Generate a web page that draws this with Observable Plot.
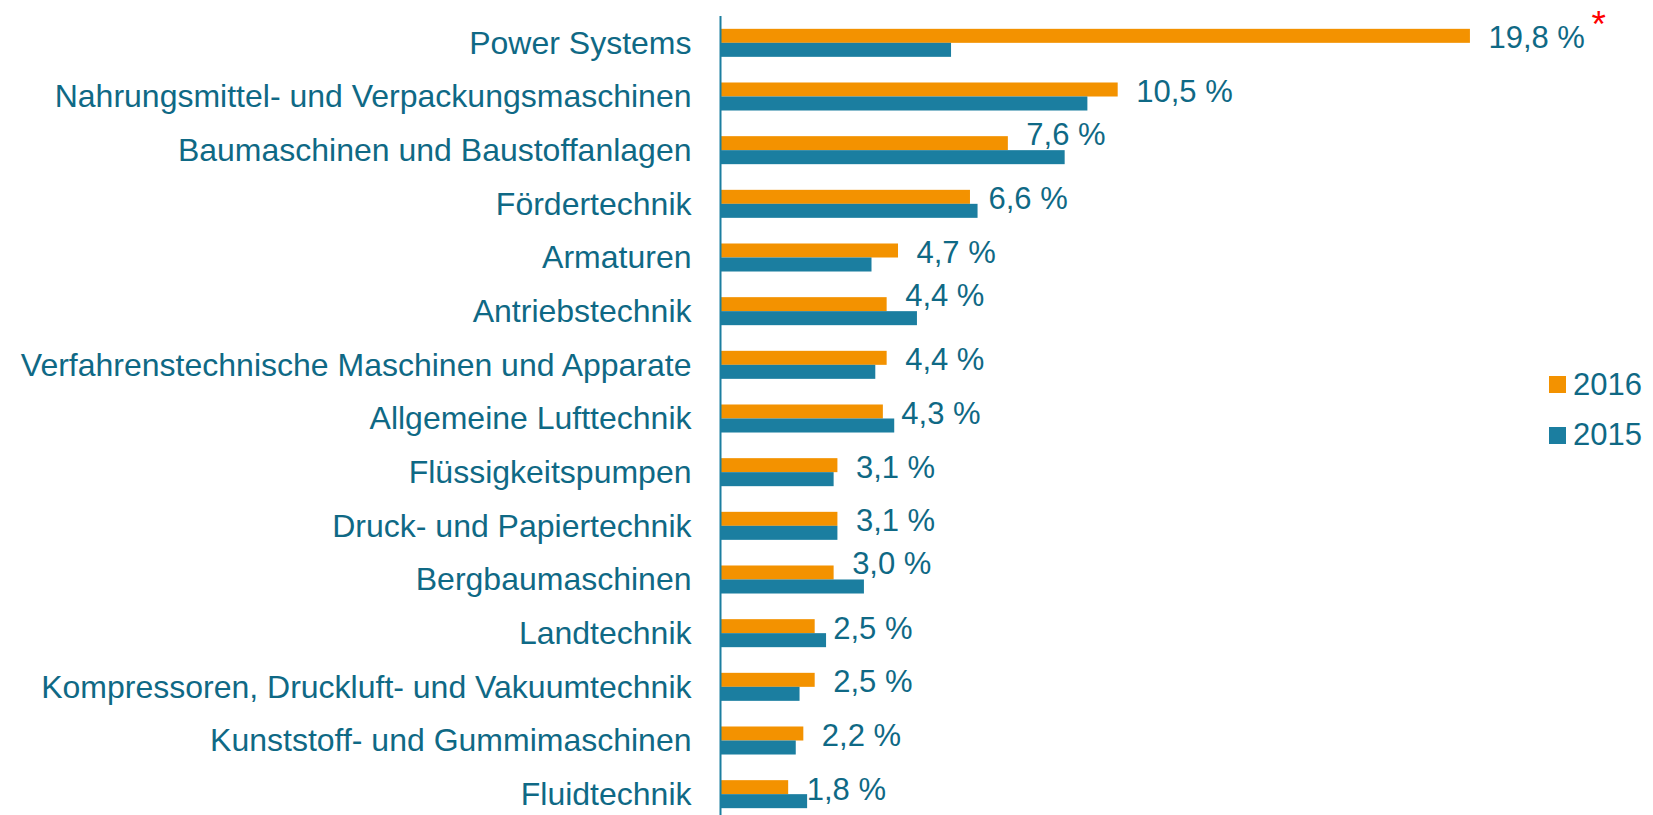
<!DOCTYPE html>
<html>
<head>
<meta charset="utf-8">
<script src="https://cdn.jsdelivr.net/npm/d3@7"></script>
<script src="https://cdn.jsdelivr.net/npm/@observablehq/plot@0.6"></script>
<style>
  html, body { margin: 0; padding: 0; background: #fff; overflow: hidden; }
  #wrap { position: relative; width: 1653px; height: 815px; }
  #legend { position: absolute; left: 0; top: 0; font-family: "Liberation Sans", Arial, sans-serif; font-size: 31px; color: #0F6985; }
  .sw { position: absolute; width: 17px; height: 17px; }
  .lt { position: absolute; line-height: 31px; white-space: nowrap; }
</style>
</head>
<body>
<div id="wrap"><div id="legend"></div></div>
<script>
const categories = [
  "Power Systems",
  "Nahrungsmittel- und Verpackungsmaschinen",
  "Baumaschinen und Baustoffanlagen",
  "Fördertechnik",
  "Armaturen",
  "Antriebstechnik",
  "Verfahrenstechnische Maschinen und Apparate",
  "Allgemeine Lufttechnik",
  "Flüssigkeitspumpen",
  "Druck- und Papiertechnik",
  "Bergbaumaschinen",
  "Landtechnik",
  "Kompressoren, Druckluft- und Vakuumtechnik",
  "Kunststoff- und Gummimaschinen",
  "Fluidtechnik"
];
const values2016 = [19.8, 10.5, 7.6, 6.6, 4.7, 4.4, 4.4, 4.3, 3.1, 3.1, 3.0, 2.5, 2.5, 2.2, 1.8];
const values2015 = [6.1, 9.7, 9.1, 6.8, 4.0, 5.2, 4.1, 4.6, 3.0, 3.1, 3.8, 2.8, 2.1, 2.0, 2.3];
const seriesNames = ["2016", "2015"];
const seriesColors = ["#F39200", "#1B7EA0"];
const footnoted = ["Power Systems"];

const textColor = "#0F6985";
const rows = categories.map((c, i) => ({category: c, v2016: values2016[i], v2015: values2015[i]}));
const fmt = v => v.toFixed(1).replace(".", ",") + "\u00a0%";
const raised = d => d.v2015 - d.v2016 > 0.6;

const chart = Plot.plot({
  width: 1653,
  height: 821,
  marginTop: 16,
  marginBottom: 0,
  marginLeft: 720,
  marginRight: 24,
  style: {fontFamily: "'Liberation Sans', Arial, sans-serif", fontSize: "32px", color: textColor, background: "transparent"},
  x: {domain: [0, 24], axis: null},
  y: {domain: categories, paddingInner: 0.478, paddingOuter: 0.239, round: false, tickSize: 0, tickPadding: 29, label: null},
  marks: [
    Plot.barX(rows, {y: "category", x: "v2016", fill: seriesColors[0], insetBottom: 14}),
    Plot.barX(rows, {y: "category", x: "v2015", fill: seriesColors[1], insetTop: 14}),
    Plot.ruleX([0], {stroke: "#1B7EA0", strokeWidth: 2}),
    Plot.text(rows.filter(d => !raised(d)), {y: "category", x: "v2016", text: d => fmt(d.v2016), textAnchor: "start", dx: 18, dy: -5, fill: textColor, fontSize: 31}),
    Plot.text(rows.filter(raised), {y: "category", x: "v2016", text: d => fmt(d.v2016), textAnchor: "start", dx: 18, dy: -16, fill: textColor, fontSize: 31}),
    Plot.text(rows.filter(d => footnoted.includes(d.category)), {y: "category", x: "v2016", text: () => "*", textAnchor: "start", dx: 121, dy: -18, fill: "#FF0000", fontSize: 37})
  ]
});
document.getElementById("wrap").prepend(chart);

const legend = document.getElementById("legend");
seriesNames.forEach((name, i) => {
  const sw = document.createElement("div");
  sw.className = "sw";
  sw.style.left = "1549px";
  sw.style.top = (376 + i * 51) + "px";
  sw.style.background = seriesColors[i];
  legend.appendChild(sw);
  const t = document.createElement("div");
  t.className = "lt";
  t.style.left = "1573px";
  t.style.top = (369 + i * 50) + "px";
  t.textContent = name;
  legend.appendChild(t);
});
</script>
</body>
</html>
